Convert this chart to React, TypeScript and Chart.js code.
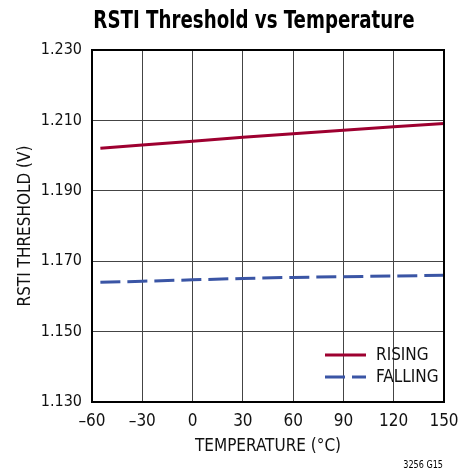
import React, { useEffect, useRef } from "react";
import { Chart, registerables } from "chart.js";

Chart.register(...registerables);

const temps = [-55, -30, 0, 30, 60, 90, 120, 150];
const rising = [1.2021, 1.203, 1.2041, 1.2052, 1.2062, 1.2072, 1.2082, 1.2091];
const falling = [1.164, 1.1643, 1.1647, 1.1651, 1.1654, 1.1656, 1.1658, 1.166];
const xTicks = [-60, -30, 0, 30, 60, 90, 120, 150];
const yTicks = [1.13, 1.15, 1.17, 1.19, 1.21, 1.23];
const titleText = "RSTI Threshold vs Temperature";
const xTitle = "TEMPERATURE (°C)";
const yTitle = "RSTI THRESHOLD (V)";
const footText = "3256 G15";

const FONT = "'DejaVu Sans Condensed', 'Liberation Sans', sans-serif";

function condensedText(ctx: any, text: string, x: number, y: number, sx: number, align: string) {
  ctx.save();
  ctx.translate(x, y);
  ctx.scale(sx, 1);
  ctx.textAlign = align;
  ctx.fillText(text, 0, 0);
  ctx.restore();
}

const extras = {
  id: "extras",
  afterDraw(chart: any) {
    const { ctx, chartArea } = chart;
    ctx.save();
    ctx.strokeStyle = "#000";
    ctx.lineWidth = 2;
    ctx.strokeRect(chartArea.left, chartArea.top, chartArea.right - chartArea.left, chartArea.bottom - chartArea.top);
    ctx.fillStyle = "#000";
    ctx.textBaseline = "middle";
    ctx.font = `bold 25px ${FONT}`;
    condensedText(ctx, titleText, 254, 21, 0.81, "center");
    ctx.font = `10px ${FONT}`;
    condensedText(ctx, footText, 443, 465, 0.9, "right");
    const ys = [355, 377];
    chart.data.datasets.forEach((ds: any, i: number) => {
      const y = ys[i];
      ctx.beginPath();
      ctx.strokeStyle = ds.borderColor;
      ctx.lineWidth = ds.borderWidth;
      ctx.setLineDash(ds.borderDash || []);
      ctx.moveTo(325, y);
      ctx.lineTo(366, y);
      ctx.stroke();
      ctx.setLineDash([]);
      ctx.fillStyle = "#111";
      ctx.font = `17px ${FONT}`;
      ctx.textAlign = "left";
      ctx.fillText(ds.label, 376, y + 1);
    });
    ctx.restore();
  },
};

export default function App() {
  const ref = useRef<HTMLCanvasElement>(null);
  useEffect(() => {
    document.body.style.margin = "0";
    const chart = new Chart(ref.current!, {
      type: "line",
      data: {
        datasets: [
          {
            label: "RISING",
            data: temps.map((t, i) => ({ x: t, y: rising[i] })),
            borderColor: "#9e0030",
            borderWidth: 3,
            pointRadius: 0,
            tension: 0,
          },
          {
            label: "FALLING",
            data: temps.map((t, i) => ({ x: t, y: falling[i] })),
            borderColor: "#3a55a5",
            borderWidth: 3,
            borderDash: [20, 7],
            pointRadius: 0,
            tension: 0,
          },
        ],
      },
      options: {
        animation: false,
        responsive: false,
        devicePixelRatio: 1,
        layout: { padding: { top: 50, right: 30, left: 0, bottom: 0 } },
        plugins: { legend: { display: false }, tooltip: { enabled: false }, title: { display: false } },
        scales: {
          x: {
            type: "linear",
            min: -60,
            max: 150,
            afterFit: (s: any) => { s.height = 69; },
            afterBuildTicks: (s: any) => { s.ticks = xTicks.map((v) => ({ value: v })); },
            ticks: {
              color: "#111",
              font: { family: FONT, size: 17 },
              padding: 9,
              callback: (v: any) => (Number(v) < 0 ? "\u2013" + Math.abs(Number(v)) : String(v)),
            },
            grid: { color: "#444", lineWidth: 1, drawTicks: false },
            border: { color: "#000", width: 2 },
            title: {
              display: true,
              text: xTitle,
              color: "#111",
              font: { family: FONT, size: 17 },
              padding: { top: 0, bottom: 14 },
            },
          },
          y: {
            type: "linear",
            min: 1.13,
            max: 1.23,
            afterFit: (s: any) => { s.width = 92; },
            afterBuildTicks: (s: any) => { s.ticks = yTicks.map((v) => ({ value: v })); },
            ticks: {
              color: "#111",
              font: { family: FONT, size: 16 },
              padding: 10,
              callback: (v: any) => Number(v).toFixed(3),
            },
            grid: { color: "#444", lineWidth: 1, drawTicks: false },
            border: { color: "#000", width: 2 },
            title: {
              display: true,
              text: yTitle,
              color: "#111",
              font: { family: FONT, size: 17 },
              padding: { top: 15, bottom: 0 },
            },
          },
        },
      },
      plugins: [extras],
    });
    return () => chart.destroy();
  }, []);
  return (
    <div style={{ width: 474, height: 471, background: "#fff" }}>
      <canvas ref={ref} width={474} height={471} style={{ display: "block" }} />
    </div>
  );
}
